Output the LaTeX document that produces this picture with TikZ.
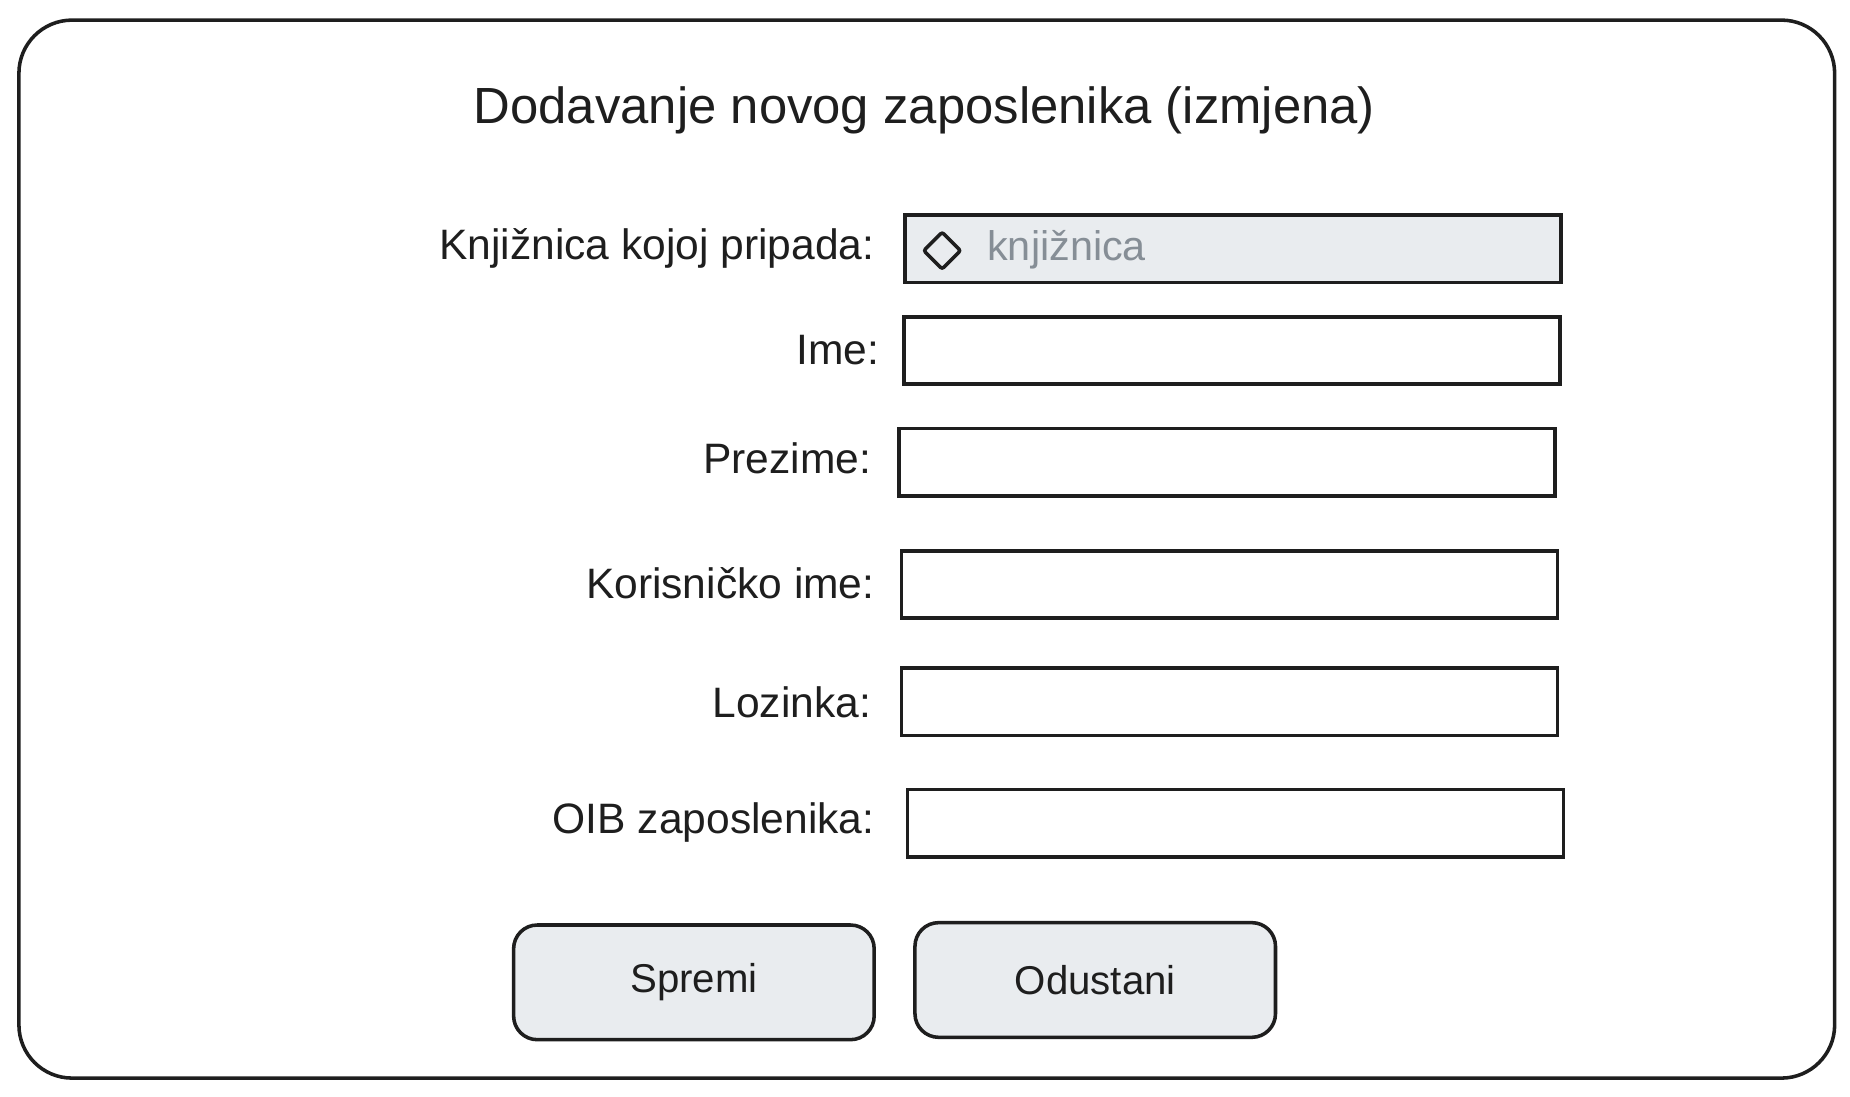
\documentclass[tikz,border=0pt]{standalone}
\usepackage{fontspec}
\setmainfont{Liberation Sans}
\definecolor{ink}{HTML}{1E1E1E}
\definecolor{boxfill}{HTML}{E9ECEF}
\definecolor{hint}{HTML}{868E96}
\begin{document}
\begin{tikzpicture}[x=1pt,y=-1pt,
  frame/.style={draw=ink,line width=3pt,rounded corners=45pt},
  field/.style={draw=ink,line width=3pt,fill=white,minimum width=555pt,minimum height=57pt,inner sep=0pt},
  selfield/.style={field,fill=boxfill},
  lbl/.style={anchor=east,text=ink,font=\fontsize{36}{40}\selectfont,inner sep=0pt},
  btn/.style={draw=ink,line width=3pt,fill=boxfill,rounded corners=20pt,minimum width=305pt,minimum height=97pt,font=\fontsize{34}{38}\selectfont,text=ink},
  titlestyle/.style={text=ink,font=\fontsize{43}{48}\selectfont,inner sep=0pt}]
\useasboundingbox (0,0) rectangle (1565,927.2);
\draw[frame] (16,17) rectangle (1552,912);
\node[titlestyle] (title) at (782,93) {Dodavanje novog zaposlenika (izmjena)};
% fields
\node[selfield] (f1) at (1043,210.5) {};
\node[field] (f2) at (1042,296.5) {};
\node[field] (f3) at (1038,391) {};
\node[field] (f4) at (1040,494.5) {};
\node[field] (f5) at (1040,593.5) {};
\node[field] (f6) at (1045,696.5) {};
% diamond and hint
\node[draw=ink,line width=3pt,shape=rectangle,rotate=45,minimum size=22pt,inner sep=0pt,rounded corners=2pt] (dia) at (797,212) {};
\node[anchor=west,text=hint,font=\fontsize{35}{40}\selectfont,inner sep=0pt] (hinttxt) at (835,211) {knjižnica};
% labels
\node[lbl] (l1) at (740,210) {Knjižnica kojoj pripada:};
\node[lbl] (l2) at (744,296) {Ime:};
\node[lbl] (l3) at (737,388) {Prezime:};
\node[lbl] (l4) at (740,493) {Korisničko ime:};
\node[lbl] (l5) at (737,594) {Lozinka:};
\node[lbl] (l6) at (740,696) {OIB zaposlenika:};
% buttons
\node[btn] (b1) at (587,831) {Spremi};
\node[btn] (b2) at (926.5,829) {Odustani};
\end{tikzpicture}
\end{document}
